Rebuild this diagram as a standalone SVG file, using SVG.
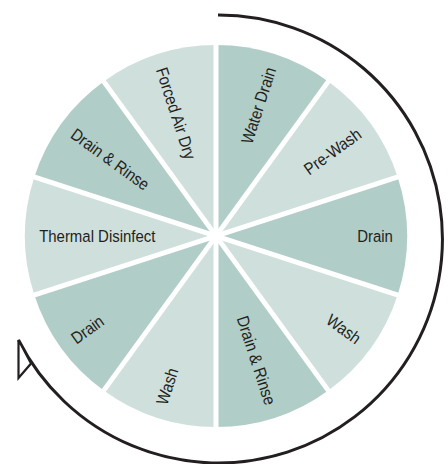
<svg xmlns="http://www.w3.org/2000/svg" width="448" height="464" viewBox="0 0 448 464">
<style>
.dk{fill:#b1cdc8}
.lt{fill:#cfe0dc}
.sep{stroke:#fff;stroke-width:5;fill:none}
.lbl{font-family:"Liberation Sans",Arial,sans-serif;font-size:17px;fill:#231f20}
.r{text-anchor:end}
.l{text-anchor:start}
.cyc{fill:none;stroke:#231f20;stroke-width:3}
.head{fill:#fff;stroke:#231f20;stroke-width:2.2;stroke-linejoin:miter}
</style>
<rect width="448" height="464" fill="#fff"/>
<g id="sector-water-drain"><path class="dk" d="M216,236 L216,45 A191,191 0 0 1 328.27,81.48 Z"/><text class="lbl r" x="201" y="6" transform="translate(216,236) rotate(-72) scale(0.88 1)">Water Drain</text></g>
<g id="sector-pre-wash"><path class="lt" d="M216,236 L328.27,81.48 A191,191 0 0 1 397.66,176.98 Z"/><text class="lbl r" x="201" y="6" transform="translate(216,236) rotate(-36) scale(0.88 1)">Pre-Wash</text></g>
<g id="sector-drain-1"><path class="dk" d="M216,236 L397.66,176.98 A191,191 0 0 1 397.66,295.02 Z"/><text class="lbl r" x="201" y="6" transform="translate(216,236) rotate(0) scale(0.88 1)">Drain</text></g>
<g id="sector-wash-1"><path class="lt" d="M216,236 L397.66,295.02 A191,191 0 0 1 328.27,390.52 Z"/><text class="lbl r" x="201" y="6" transform="translate(216,236) rotate(36) scale(0.88 1)">Wash</text></g>
<g id="sector-drain-rinse-1"><path class="dk" d="M216,236 L328.27,390.52 A191,191 0 0 1 216,427 Z"/><text class="lbl r" x="201" y="6" transform="translate(216,236) rotate(72) scale(0.88 1)">Drain &amp; Rinse</text></g>
<g id="sector-wash-2"><path class="lt" d="M216,236 L216,427 A191,191 0 0 1 103.73,390.52 Z"/><text class="lbl l" x="-201" y="6" transform="translate(216,236) rotate(-72) scale(0.88 1)">Wash</text></g>
<g id="sector-drain-2"><path class="dk" d="M216,236 L103.73,390.52 A191,191 0 0 1 34.34,295.02 Z"/><text class="lbl l" x="-201" y="6" transform="translate(216,236) rotate(-36) scale(0.88 1)">Drain</text></g>
<g id="sector-thermal-disinfect"><path class="lt" d="M216,236 L34.34,295.02 A191,191 0 0 1 34.34,176.98 Z"/><text class="lbl l" x="-201" y="6" transform="translate(216,236) rotate(0) scale(0.88 1)">Thermal Disinfect</text></g>
<g id="sector-drain-rinse-2"><path class="dk" d="M216,236 L34.34,176.98 A191,191 0 0 1 103.73,81.48 Z"/><text class="lbl l" x="-201" y="6" transform="translate(216,236) rotate(36) scale(0.88 1)">Drain &amp; Rinse</text></g>
<g id="sector-forced-air-dry"><path class="lt" d="M216,236 L103.73,81.48 A191,191 0 0 1 216,45 Z"/><text class="lbl l" x="-201" y="6" transform="translate(216,236) rotate(72) scale(0.88 1)">Forced Air Dry</text></g>
<g id="separators">
<line class="sep" x1="216" y1="43" x2="216" y2="429"/>
<line class="sep" x1="329.45" y1="79.86" x2="102.55" y2="392.14"/>
<line class="sep" x1="399.56" y1="176.36" x2="32.44" y2="295.64"/>
<line class="sep" x1="399.56" y1="295.64" x2="32.44" y2="176.36"/>
<line class="sep" x1="329.45" y1="392.14" x2="102.55" y2="79.86"/>
</g>
<g id="connectors">
<path class="cyc" d="M218,15 A224,224 0 1 1 18.5,340"/>
<polygon class="head" points="18.5,340 18.5,378 31,363.5"/>
</g>
</svg>
